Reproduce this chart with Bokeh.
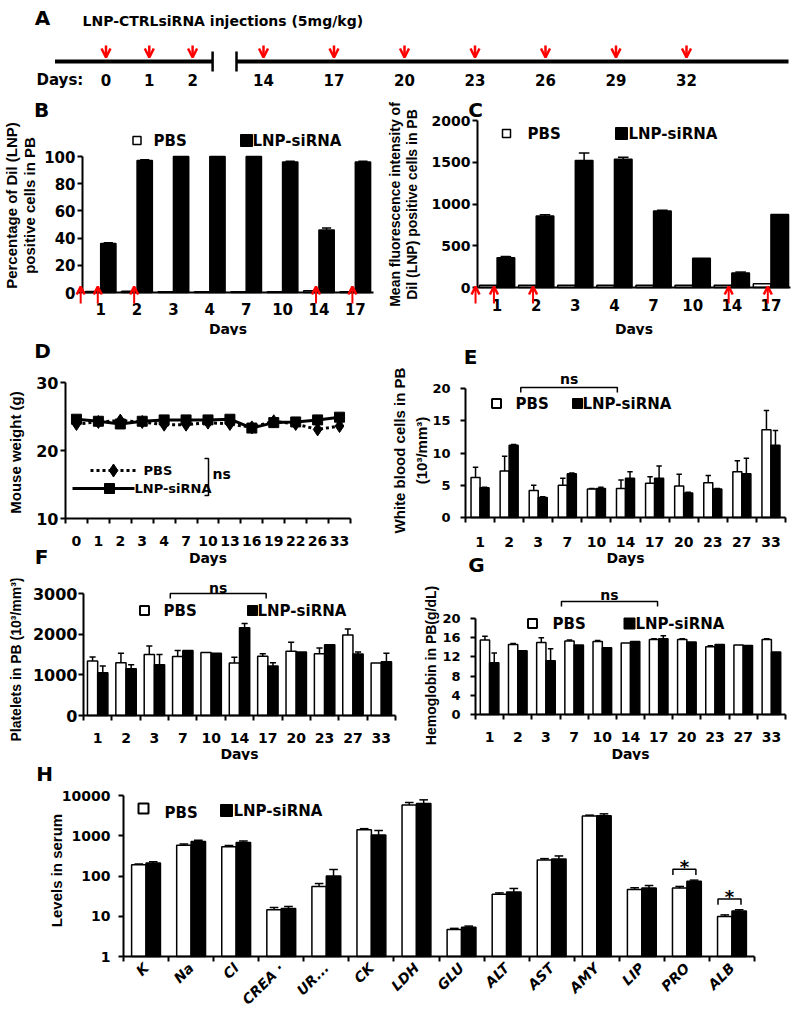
import math
from bokeh.plotting import figure
from bokeh.layouts import column, row
from bokeh.models import Range1d, FixedTicker, Arrow, OpenHead, ColumnDataSource
from bokeh.core.properties import value
from bokeh.embed import file_html
from bokeh.resources import INLINE

WF = "DejaVu Sans"
NF = "Liberation Sans"

# ---------------- data ----------------
inj_days_A = [0, 1, 2, 14, 17, 20, 23, 26, 29, 32]

dil_days = ["1", "2", "3", "4", "7", "10", "14", "17"]
dil_pbs = [0.8, 1.0, 0.6, 0.6, 0.6, 0.6, 1.2, 0.6]
dil_pbs_sd = [0, 0, 0, 0, 0, 0, 0, 0]
dil_lnp = [36, 97, 100, 100, 100, 96, 46, 96]
dil_lnp_sd = [0.6, 0.6, 0, 0, 0, 0.5, 1.5, 0.5]

mfi_pbs = [28, 28, 28, 28, 28, 28, 28, 45]
mfi_pbs_sd = [0, 0, 0, 0, 0, 0, 0, 0]
mfi_lnp = [355, 855, 1520, 1535, 915, 350, 175, 875]
mfi_lnp_sd = [15, 15, 90, 25, 10, 0, 10, 0]

inj_days_BC = [0, 1, 2, 14, 17]

wt_days = ["0", "1", "2", "3", "4", "7", "10", "13", "16", "19", "22", "26", "33"]
wt_pbs = [23.9, 24.2, 24.4, 24.2, 23.8, 23.8, 24.1, 23.9, 23.4, 24.3, 23.9, 23.1, 23.6]
wt_lnp = [24.6, 24.3, 23.9, 24.3, 24.5, 24.5, 24.5, 24.6, 23.3, 24.1, 24.2, 24.5, 24.9]

cbc_days = ["1", "2", "3", "7", "10", "14", "17", "20", "23", "27", "33"]
wbc_pbs = [6.2, 7.2, 4.2, 5.0, 4.4, 4.5, 5.3, 4.9, 5.4, 7.1, 13.6]
wbc_pbs_sd = [1.6, 2.3, 0.8, 1.1, 0.1, 1.3, 1.0, 1.8, 1.1, 1.7, 3.0]
wbc_lnp = [4.6, 11.2, 3.1, 6.8, 4.5, 6.1, 6.1, 3.8, 4.4, 6.8, 11.2]
wbc_lnp_sd = [0.1, 0.1, 0.1, 0.1, 0.2, 1.0, 1.9, 0.1, 0.1, 2.4, 2.3]

plt_pbs = [1340, 1300, 1500, 1450, 1550, 1290, 1460, 1580, 1520, 1980, 1290]
plt_pbs_sd = [100, 230, 210, 150, 0, 140, 60, 220, 140, 150, 0]
plt_lnp = [1050, 1150, 1250, 1600, 1530, 2160, 1220, 1560, 1740, 1510, 1320]
plt_lnp_sd = [170, 100, 250, 0, 0, 100, 80, 0, 0, 50, 210]

hgb_pbs = [15.5, 14.6, 15.0, 15.3, 15.2, 14.9, 15.6, 15.6, 14.1, 14.5, 15.6]
hgb_pbs_sd = [0.8, 0.2, 1.0, 0.2, 0.2, 0, 0.2, 0.2, 0.2, 0, 0.2]
hgb_lnp = [10.8, 13.3, 11.2, 14.5, 13.9, 15.2, 15.8, 15.1, 14.6, 14.4, 13.0]
hgb_lnp_sd = [2.0, 0, 2.5, 0, 0, 0, 0.6, 0, 0, 0, 0]

serum_items = ["K", "Na", "Cl", "CREA ·", "UR...", "CK", "LDH", "GLU", "ALT", "AST", "AMY", "LIP", "PRO", "ALB"]
serum_pbs = [190, 580, 530, 14.5, 55, 1400, 5800, 4.7, 35, 250, 3100, 46, 50, 9.8]
serum_pbs_sd = [10, 40, 40, 2, 10, 100, 900, 0.3, 3, 20, 150, 5, 5, 1]
serum_lnp = [210, 720, 680, 15.5, 100, 1050, 6300, 5.3, 40, 265, 3150, 50, 74, 13.5]
serum_lnp_sd = [15, 50, 60, 2, 45, 300, 1500, 0.4, 9, 50, 350, 8, 5, 1]
serum_sig = ["PRO", "ALB"]


# ---------------- helpers ----------------
class Geo:
    """Figure box in page pixels; category axis from ax_l to ax_r; value v0 at py0, v1 at py1."""
    def __init__(self, fx, fy, w, h, ax_l, ax_r, n, v0, py0, v1, py1, log=False):
        self.fx, self.fy, self.w, self.h = fx, fy, w, h
        self.ax_l, self.ax_r, self.n = ax_l, ax_r, n
        self.v0, self.py0, self.v1, self.py1, self.log = v0, py0, v1, py1, log

    def X(self, px):
        return -0.5 + (px - self.ax_l) * self.n / (self.ax_r - self.ax_l)

    def Y(self, py):
        t = (self.py0 - py) / (self.py0 - self.py1)
        if self.log:
            a, b = math.log10(self.v0), math.log10(self.v1)
            return 10 ** (a + t * (b - a))
        return self.v0 + t * (self.v1 - self.v0)


def base_fig(g):
    kw = {"y_axis_type": "log"} if g.log else {}
    p = figure(width=g.w, height=g.h,
               x_range=Range1d(g.X(g.fx), g.X(g.fx + g.w)),
               y_range=Range1d(g.Y(g.fy + g.h), g.Y(g.fy)),
               output_backend="svg", toolbar_location=None, min_border=0, **kw)
    p.outline_line_color = None
    p.xgrid.visible = False
    p.ygrid.visible = False
    p.background_fill_color = "white"
    p.border_fill_color = "white"
    return p


def txt(p, g, px, py, s, size="15px", align="left", font=WF, style="bold", angle=0.0, lh=1.2):
    p.text(x=[g.X(px)], y=[g.Y(py)], text=[s], text_font=value(font), text_font_style=style,
           text_font_size=size, text_align=align, text_baseline="middle", angle=angle,
           text_color="black", text_line_height=lh)


def setup_x(p, g, labels, size, standoff, minor=True, orient=None, style="bold"):
    ax = p.xaxis[0]
    n = len(labels)
    ax.fixed_location = g.v0
    ax.bounds = (-0.5, n - 0.5)
    ax.ticker = FixedTicker(ticks=list(range(n)),
                            minor_ticks=[i - 0.5 for i in range(n + 1)] if minor else [])
    ax.major_label_overrides = {i: lab for i, lab in enumerate(labels)}
    ax.major_tick_line_color = None
    ax.major_tick_out = 0
    ax.major_tick_in = 0
    ax.minor_tick_out = 5
    ax.minor_tick_in = 0
    ax.minor_tick_line_width = 2
    ax.minor_tick_line_color = "black" if minor else None
    ax.axis_line_width = 2
    ax.axis_line_color = "black"
    ax.major_label_text_font = WF
    ax.major_label_text_font_style = style
    ax.major_label_text_font_size = size
    ax.major_label_text_color = "black"
    ax.major_label_standoff = standoff
    if orient is not None:
        ax.major_label_orientation = orient


def setup_y(p, ticks, size, standoff, overrides=None):
    ax = p.yaxis[0]
    ax.fixed_location = -0.5
    ax.ticker = FixedTicker(ticks=ticks, minor_ticks=[])
    ax.bounds = (ticks[0], ticks[-1])
    ax.major_tick_out = 5
    ax.major_tick_in = 0
    ax.major_tick_line_width = 2
    ax.minor_tick_line_color = None
    ax.axis_line_width = 2
    ax.axis_line_color = "black"
    ax.major_label_text_font = WF
    ax.major_label_text_font_style = "bold"
    ax.major_label_text_font_size = size
    ax.major_label_text_color = "black"
    ax.major_label_standoff = standoff
    if overrides:
        ax.major_label_overrides = overrides


def grouped(p, pbs, lnp, pbs_sd, lnp_sd, width, off, bottom=0):
    n = len(pbs)
    xp = [i - off for i in range(n)]
    xl = [i + off for i in range(n)]
    p.vbar(x=xp, top=pbs, bottom=bottom, width=width, fill_color="white",
           line_color="black", line_width=1.5)
    p.vbar(x=xl, top=lnp, bottom=bottom, width=width, fill_color="black",
           line_color="black", line_width=1.5)
    cap = width * 0.3
    for xs, tops, sds in ((xp, pbs, pbs_sd), (xl, lnp, lnp_sd)):
        sel = [(x, t, s) for x, t, s in zip(xs, tops, sds) if s > 0]
        if not sel:
            continue
        x_ = [a for a, _, _ in sel]
        t_ = [b for _, b, _ in sel]
        u_ = [b + c for _, b, c in sel]
        p.segment(x0=x_, y0=t_, x1=x_, y1=u_, line_color="black", line_width=1.5)
        p.segment(x0=[a - cap for a in x_], y0=u_, x1=[a + cap for a in x_], y1=u_,
                  line_color="black", line_width=1.5)


def legend(p, g, items, size="15px"):
    for (mx, my, msize, fill, lw, tx, ty, text) in items:
        p.scatter(x=[g.X(mx)], y=[g.Y(my)], marker="square", size=msize,
                  fill_color=fill, line_color="black", line_width=lw)
        txt(p, g, tx, ty, text, size=size)


def letter(p, g, text, px, py):
    txt(p, g, px, py, text, size="20px", align="center")


def ns_bracket(p, g, cats, a, b, oa, ob, py, ptext):
    x0 = cats.index(a) + oa
    x1 = cats.index(b) + ob
    ya, yb = g.Y(py), g.Y(py + 5)
    p.line(x=[x0, x0, x1, x1], y=[yb, ya, ya, yb], line_color="black", line_width=1.5)
    p.text(x=[(x0 + x1) / 2], y=[g.Y(ptext)], text=["ns"], text_font=value(WF),
           text_font_style="bold", text_font_size="14px", text_align="center",
           text_baseline="middle", text_color="black")


def inj_arrows(p, g, cats, days):
    xs = [(-0.55 if str(d) not in cats else cats.index(str(d)) - 0.08) for d in days]
    src = ColumnDataSource(dict(x=xs, y0=[g.Y(303)] * len(xs), y1=[g.Y(286)] * len(xs)))
    p.add_layout(Arrow(end=OpenHead(size=8, line_color="red", line_width=2.5),
                       x_start="x", y_start="y0", x_end="x", y_end="y1",
                       line_color="red", line_width=2, source=src))


def days_label(p, g, py):
    p.text(x=[(g.n - 1) / 2], y=[g.Y(py)], text=["Days"], text_font=value(WF),
           text_font_style="bold", text_font_size="14px", text_align="center",
           text_baseline="middle", text_color="black")


# ---------------- panel A ----------------
pA = figure(width=796, height=88, x_range=Range1d(0, 796), y_range=Range1d(88, 0),
            output_backend="svg", toolbar_location=None, min_border=0,
            x_axis_location=None, y_axis_location=None)
pA.xgrid.visible = False
pA.ygrid.visible = False
pA.outline_line_color = None


def a_pos(d):
    return 105.5 + 43.3 * d if d <= 2 else 263 + (d - 14) * 70.5 / 3


first = [d for d in inj_days_A if d <= 2]
second = [d for d in inj_days_A if d > 2]
brk1 = a_pos(first[-1]) + 20
brk2 = a_pos(second[0]) - 27
pA.segment(x0=[a_pos(first[0]) - 51, brk2], y0=[61, 61], x1=[brk1, a_pos(second[-1]) + 102],
           y1=[61, 61], line_color="black", line_width=4)
pA.segment(x0=[brk1, brk2], y0=[51, 51], x1=[brk1, brk2], y1=[71, 71],
           line_color="black", line_width=2.5)
srcA = ColumnDataSource(dict(x=[a_pos(d) for d in inj_days_A], y0=[45] * len(inj_days_A),
                             y1=[57] * len(inj_days_A)))
pA.add_layout(Arrow(end=OpenHead(size=9, line_color="red", line_width=2.5),
                    x_start="x", y_start="y0", x_end="x", y_end="y1",
                    line_color="red", line_width=2.5, source=srcA))
pA.text(x=[a_pos(d) for d in inj_days_A], y=[79] * len(inj_days_A),
        text=[str(d) for d in inj_days_A], text_font=value(WF), text_font_style="bold",
        text_font_size="15px", text_align="center", text_baseline="middle")
pA.text(x=[36], y=[79], text=["Days:"], text_font=value(WF), text_font_style="bold",
        text_font_size="15px", text_align="left", text_baseline="middle")
pA.text(x=[82], y=[20], text=["LNP-CTRLsiRNA injections (5mg/kg)"], text_font=value(WF),
        text_font_style="bold", text_font_size="14px", text_align="left", text_baseline="middle")
pA.text(x=[42], y=[17], text=["A"], text_font=value(WF), text_font_style="bold",
        text_font_size="20px", text_align="center", text_baseline="middle")

# ---------------- panel B ----------------
gB = Geo(0, 88, 382, 247, 82, 373, len(dil_days), 0, 292, 100, 156)
pB = base_fig(gB)
grouped(pB, dil_pbs, dil_lnp, dil_pbs_sd, dil_lnp_sd, 0.42, 0.21)
setup_x(pB, gB, dil_days, "15px", 10, minor=False)
setup_y(pB, [0, 20, 40, 60, 80, 100], "15px", 2)
days_label(pB, gB, 328)
txt(pB, gB, 20, 205, "Percentage of Dil (LNP)\npositive cells in PB", size="15px", align="center",
    font=NF, angle=math.pi / 2, lh=1.05)
legend(pB, gB, [(136.5, 140, 8, "white", 1.5, 153, 140, "PBS"),
                (246, 140, 12, "black", 1, 252, 140, "LNP-siRNA")])
inj_arrows(pB, gB, dil_days, inj_days_BC)
letter(pB, gB, "B", 41, 109)

# ---------------- panel C ----------------
gC = Geo(382, 88, 414, 247, 477, 790, len(dil_days), 0, 287, 2000, 120)
pC = base_fig(gC)
grouped(pC, mfi_pbs, mfi_lnp, mfi_pbs_sd, mfi_lnp_sd, 0.45, 0.225)
setup_x(pC, gC, dil_days, "15px", 11, minor=False)
setup_y(pC, [0, 500, 1000, 1500, 2000], "14px", 2)
days_label(pC, gC, 328)
txt(pC, gC, 403, 204, "Mean fluorescence intensity of\nDil (LNP) positive cells in PB", size="14px",
    align="center", font=NF, angle=math.pi / 2, lh=1.07)
legend(pC, gC, [(506, 133, 8, "white", 1.5, 527, 133, "PBS"),
                (621, 133, 12, "black", 1, 628, 133, "LNP-siRNA")])
inj_arrows(pC, gC, dil_days, inj_days_BC)
letter(pC, gC, "C", 475, 109)

# ---------------- panel D ----------------
gD = Geo(0, 335, 388, 243, 65, 350, len(wt_days), 10, 518, 30, 382)
pD = base_fig(gD)
xsD = list(range(len(wt_days)))
pD.line(x=xsD, y=wt_pbs, line_color="black", line_width=3, line_dash="3 3")
pD.scatter(x=xsD, y=wt_pbs, marker="diamond", size=13, fill_color="black", line_color="black")
pD.line(x=xsD, y=wt_lnp, line_color="black", line_width=3)
pD.scatter(x=xsD, y=wt_lnp, marker="square", size=10, fill_color="black", line_color="black")
setup_x(pD, gD, wt_days, "14px", 12)
setup_y(pD, [10, 20, 30], "16px", 2)
days_label(pD, gD, 557)
txt(pD, gD, 15, 452, "Mouse weight (g)", size="15px", align="center", font=NF, angle=math.pi / 2)
pD.line(x=[gD.X(90), gD.X(137)], y=[gD.Y(470)] * 2, line_color="black", line_width=3, line_dash="3 3")
pD.scatter(x=[gD.X(113)], y=[gD.Y(470)], marker="diamond", size=13, fill_color="black", line_color="black")
pD.line(x=[gD.X(72), gD.X(134)], y=[gD.Y(488)] * 2, line_color="black", line_width=3)
pD.scatter(x=[gD.X(109)], y=[gD.Y(488)], marker="square", size=10, fill_color="black", line_color="black")
txt(pD, gD, 143, 470, "PBS", size="13px")
txt(pD, gD, 134, 488, "LNP-siRNA", size="13px")
pD.line(x=[gD.X(204), gD.X(208), gD.X(208), gD.X(204)],
        y=[gD.Y(458), gD.Y(458), gD.Y(495), gD.Y(495)], line_color="black", line_width=1.5)
txt(pD, gD, 212, 473, "ns", size="14px")
letter(pD, gD, "D", 42, 350)
letter(pD, gD, "F", 41, 556)

# ---------------- panel E ----------------
gE = Geo(388, 335, 408, 243, 465, 785, len(cbc_days), 0, 517, 20, 388)
pE = base_fig(gE)
grouped(pE, wbc_pbs, wbc_lnp, wbc_pbs_sd, wbc_lnp_sd, 0.31, 0.155)
setup_x(pE, gE, cbc_days, "14px", 14)
setup_y(pE, [0, 5, 10, 15, 20], "13px", 10)
days_label(pE, gE, 557)
txt(pE, gE, 410, 450, "White blood cells in PB\n(10³/mm³)", size="15px", align="center",
    font=NF, angle=math.pi / 2, lh=1.25)
legend(pE, gE, [(496, 403, 9, "white", 2, 515, 403, "PBS"),
                (577, 403, 10, "black", 1, 582, 403, "LNP-siRNA")])
ns_bracket(pE, gE, cbc_days, "3", "14", -0.6, -0.28, 387, 378)
letter(pE, gE, "E", 470, 356)
letter(pE, gE, "G", 476, 564)

# ---------------- panel F ----------------
gF = Geo(0, 578, 405, 182, 83, 395, len(cbc_days), 0, 715, 3000, 593)
pF = base_fig(gF)
grouped(pF, plt_pbs, plt_lnp, plt_pbs_sd, plt_lnp_sd, 0.36, 0.18)
setup_x(pF, gF, cbc_days, "14px", 12)
setup_y(pF, [0, 1000, 2000, 3000], "16px", 1)
days_label(pF, gF, 753)
txt(pF, gF, 15, 659, "Platelets in PB (10³/mm³)", size="14px", align="center", font=NF, angle=math.pi / 2)
legend(pF, gF, [(144, 610, 9, "white", 2, 163, 610, "PBS"),
                (252, 610, 10, "black", 1, 257, 610, "LNP-siRNA")])
ns_bracket(pF, gF, cbc_days, "7", "17", -0.44, -0.06, 593, 587)

# ---------------- panel G ----------------
gG = Geo(405, 578, 391, 182, 475, 785, len(cbc_days), 0, 714, 20, 618)
pG = base_fig(gG)
grouped(pG, hgb_pbs, hgb_lnp, hgb_pbs_sd, hgb_lnp_sd, 0.33, 0.165)
setup_x(pG, gG, cbc_days, "14px", 12)
setup_y(pG, [0, 4, 8, 12, 16, 20], "13px", 10)
days_label(pG, gG, 753)
txt(pG, gG, 430, 665, "Hemoglobin in PB(g/dL)", size="14px", align="center", font=NF, angle=math.pi / 2)
legend(pG, gG, [(532, 623, 9, "white", 2, 552, 623, "PBS"),
                (629, 623, 11, "black", 1, 635, 623, "LNP-siRNA")])
ns_bracket(pG, gG, cbc_days, "7", "17", -0.45, -0.04, 601, 594)

# ---------------- panel H ----------------
gH = Geo(0, 760, 796, 252, 123, 754, len(serum_items), 1, 956, 10000, 795, log=True)
pH = base_fig(gH)
grouped(pH, serum_pbs, serum_lnp, serum_pbs_sd, serum_lnp_sd, 0.32, 0.16, bottom=1)
setup_x(pH, gH, serum_items, "14px", 4, orient=math.pi / 4, style="bold italic")
setup_y(pH, [1, 10, 100, 1000, 10000], "14px", 8,
        overrides={1: "1", 10: "10", 100: "100", 1000: "1000", 10000: "10000"})
txt(pH, gH, 56, 870, "Levels in serum", size="15px", align="center", font=NF, angle=math.pi / 2)
legend(pH, gH, [(143, 808, 10, "white", 2, 164, 812, "PBS"),
                (226, 810, 12, "black", 1, 233, 810, "LNP-siRNA")])
for item in serum_sig:
    i = serum_items.index(item)
    top = max(serum_lnp[i], serum_pbs[i]) * 2.0
    x0, x1 = i - 0.31, i + 0.2
    pH.line(x=[x0, x0, x1, x1], y=[top * 0.72, top, top, top * 0.72], line_color="black", line_width=1.5)
    pH.text(x=[(x0 + x1) / 2], y=[top * 1.15], text=["*"], text_font=value(WF),
            text_font_style="bold", text_font_size="18px", text_align="center", text_baseline="middle")
letter(pH, gH, "H", 44, 773)

layout = column(pA, row(pB, pC), row(pD, pE), row(pF, pG), pH)
open("out.html", "w").write(file_html(layout, INLINE, title="LNP-siRNA safety"))
